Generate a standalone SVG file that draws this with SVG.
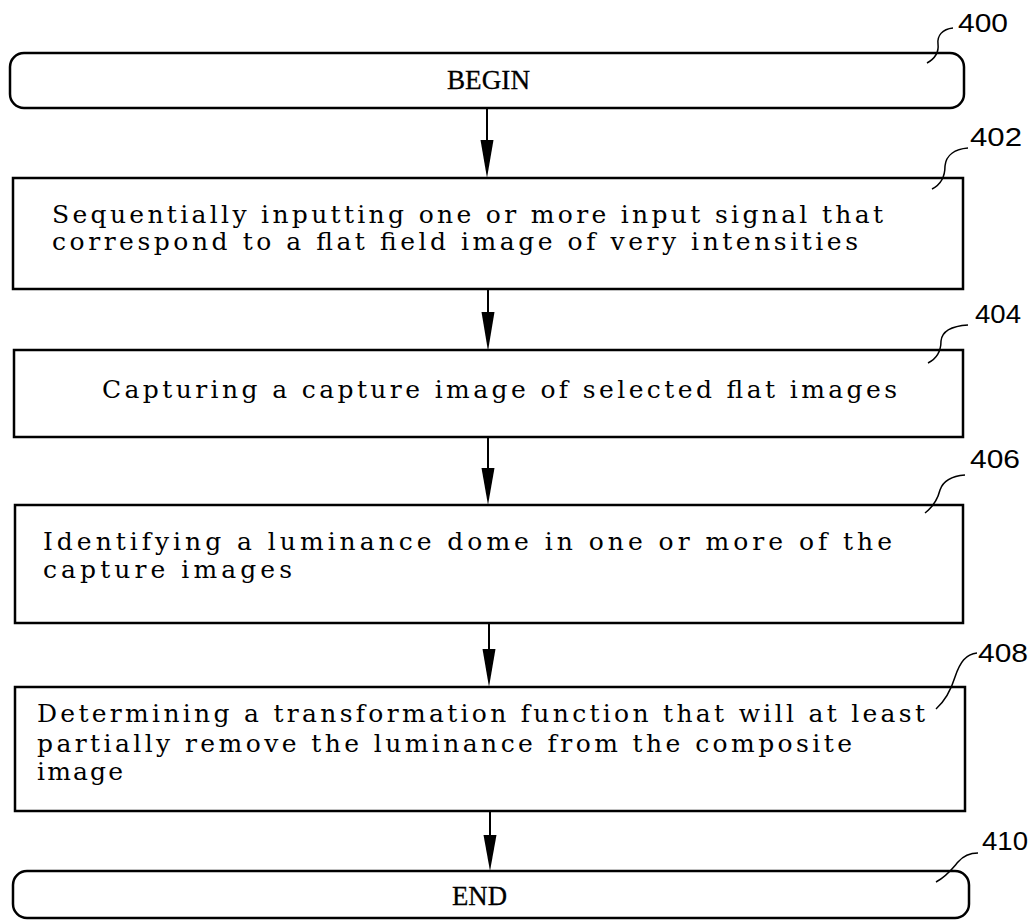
<svg xmlns="http://www.w3.org/2000/svg" width="1033" height="922" viewBox="0 0 1033 922">
<style>
.box{fill:#fff;stroke:#000;stroke-width:2.5}
.t{font-family:"DejaVu Serif",serif;font-size:25px;fill:#000}
.term{font-family:"Liberation Serif",serif;font-size:28px;fill:#000;stroke:#000;stroke-width:0.3}
.lbl{font-family:"Liberation Sans",sans-serif;font-size:25px;fill:#000}
.lead{fill:none;stroke:#000;stroke-width:1.5}
.conn{stroke:#000;stroke-width:2;fill:none}
</style>
<g id="connectors">
<line class="conn" x1="487" y1="108" x2="487" y2="141"/><path d="M480.5,140 L493.5,140 L487,178 Z"/>
<line class="conn" x1="488" y1="289" x2="488" y2="313"/><path d="M481.5,312 L494.5,312 L488,351 Z"/>
<line class="conn" x1="488" y1="437" x2="488" y2="469"/><path d="M481.5,468 L494.5,468 L488,505 Z"/>
<line class="conn" x1="489" y1="623" x2="489" y2="650"/><path d="M482.5,649 L495.5,649 L489,687 Z"/>
<line class="conn" x1="490" y1="811" x2="490" y2="836"/><path d="M483.5,835 L496.5,835 L490,871 Z"/>
</g>
<g id="n400">
<rect class="box" x="10" y="53" width="954" height="55" rx="14"/>
<text class="term" x="447" y="89" textLength="83" lengthAdjust="spacingAndGlyphs">BEGIN</text>
<path class="lead" d="M927,63 C936,58 939,52 938,44 C937,36 942,29 953,28"/>
<text class="lbl" x="958" y="32" textLength="50" lengthAdjust="spacingAndGlyphs">400</text>
</g>
<g id="n402">
<rect class="box" x="13" y="178" width="950" height="111"/>
<text class="t" x="52" y="223" textLength="831" lengthAdjust="spacing">Sequentially inputting one or more input signal that</text>
<text class="t" x="52" y="250" textLength="806" lengthAdjust="spacing">correspond to a flat field image of very intensities</text>
<path class="lead" d="M932,189 C942,184 945,176 945,166 C946,155 955,149 968,148"/>
<text class="lbl" x="970" y="146" textLength="52" lengthAdjust="spacingAndGlyphs">402</text>
</g>
<g id="n404">
<rect class="box" x="14" y="350" width="949" height="87"/>
<text class="t" x="102" y="398" textLength="795" lengthAdjust="spacing">Capturing a capture image of selected flat images</text>
<path class="lead" d="M928,363 C938,358 941,350 941,341 C942,331 952,326 968,325"/>
<text class="lbl" x="975" y="323" textLength="46" lengthAdjust="spacingAndGlyphs">404</text>
</g>
<g id="n406">
<rect class="box" x="15" y="505" width="948" height="118"/>
<text class="t" x="43" y="550" textLength="849" lengthAdjust="spacing">Identifying a luminance dome in one or more of the</text>
<text class="t" x="43" y="578" textLength="249" lengthAdjust="spacing">capture images</text>
<path class="lead" d="M925,513 C934,506 938,498 940,490 C943,481 952,476 965,475"/>
<text class="lbl" x="970" y="468" textLength="50" lengthAdjust="spacingAndGlyphs">406</text>
</g>
<g id="n408">
<rect class="box" x="15" y="687" width="950" height="124"/>
<text class="t" x="37" y="722" textLength="888" lengthAdjust="spacing">Determining a transformation function that will at least</text>
<text class="t" x="37" y="752" textLength="815" lengthAdjust="spacing">partially remove the luminance from the composite</text>
<text class="t" x="37" y="780" textLength="86" lengthAdjust="spacing">image</text>
<path class="lead" d="M936,709 C946,700 951,690 955,677 C960,662 966,654 977,653"/>
<text class="lbl" x="978" y="662" textLength="50" lengthAdjust="spacingAndGlyphs">408</text>
</g>
<g id="n410">
<rect class="box" x="13" y="871" width="956" height="47" rx="14"/>
<text class="term" x="452" y="905" textLength="55" lengthAdjust="spacingAndGlyphs">END</text>
<path class="lead" d="M936,882 C947,876 952,869 958,862 C964,855 970,853 978,853"/>
<text class="lbl" x="982" y="850" textLength="46" lengthAdjust="spacingAndGlyphs">410</text>
</g>
</svg>
